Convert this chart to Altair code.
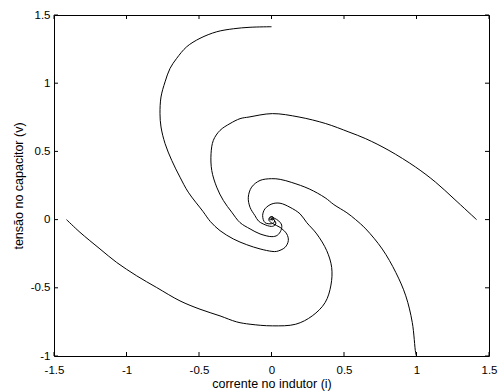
import altair as alt
import pandas as pd

# Phase-plane trajectories: inductor current (i) vs capacitor voltage (v)
A_i = [0.000, -0.148, -0.263, -0.378, -0.493, -0.585, -0.654, -0.700, -0.734, -0.762, -0.769,
       -0.762, -0.734, -0.688, -0.631, -0.574, -0.472, -0.421, -0.355, -0.263, -0.171,
       -0.079, 0.003, 0.036, 0.093, 0.116, 0.105, 0.059, 0.010, -0.018, -0.012, 0.008, 0.015,
       0.004, 0.000]
A_v = [1.414, 1.410, 1.399, 1.377, 1.329, 1.267, 1.182, 1.108, 1.010, 0.899, 0.777,
       0.679, 0.557, 0.434, 0.311, 0.201, 0.059, -0.015, -0.081, -0.142, -0.184,
       -0.215, -0.233, -0.233, -0.204, -0.154, -0.105, -0.057, -0.030, -0.005, 0.018, 0.022,
       0.006, -0.004, 0.000]

B_i = [1.414, 1.259, 1.132, 0.994, 0.810, 0.650, 0.534, 0.374, 0.190, 0.006, -0.155,
       -0.217, -0.286, -0.355, -0.401, -0.417, -0.412, -0.378, -0.332, -0.274, -0.217, -0.148,
       -0.079, 0.003, 0.040, 0.065, 0.070, 0.050, 0.020, 0.000, -0.010, -0.012, 0.000]
B_v = [0.000, 0.152, 0.274, 0.385, 0.507, 0.593, 0.642, 0.704, 0.752, 0.777, 0.752,
       0.740, 0.704, 0.654, 0.581, 0.483, 0.360, 0.238, 0.140, 0.054, -0.022, -0.068,
       -0.105, -0.125, -0.115, -0.080, -0.040, -0.010, 0.010, 0.018, 0.012, 0.000, 0.000]

C_i = [-1.414, -1.321, -1.183, -1.068, -0.930, -0.792, -0.631, -0.493, -0.355, -0.240, -0.148,
       0.006, 0.167, 0.281, 0.370, 0.410, 0.415, 0.381, 0.312, 0.243, 0.197, 0.128,
       0.059, 0.003, -0.045, -0.061, -0.045, 0.000, 0.020, 0.018, 0.005, 0.000]
C_v = [0.000, -0.093, -0.215, -0.314, -0.412, -0.498, -0.596, -0.657, -0.706, -0.750, -0.767,
       -0.779, -0.767, -0.706, -0.608, -0.480, -0.351, -0.228, -0.105, -0.022, 0.042, 0.090,
       0.120, 0.115, 0.079, 0.029, -0.022, -0.030, -0.018, 0.000, 0.010, 0.000]

D_i = [1.000, 0.994, 0.971, 0.926, 0.857, 0.764, 0.650, 0.580, 0.520, 0.430, 0.370,
       0.260, 0.140, 0.060, 0.000, -0.079, -0.137, -0.160, -0.148, -0.114, -0.090, -0.057,
       0.000, 0.025, 0.030, 0.020, 0.000, -0.004, 0.000]
D_v = [-1.000, -0.976, -0.755, -0.559, -0.387, -0.216, -0.068, 0.000, 0.050, 0.110, 0.160,
       0.225, 0.272, 0.295, 0.300, 0.287, 0.238, 0.164, 0.090, 0.029, -0.010, -0.032,
       -0.050, -0.040, -0.025, -0.005, 0.008, 0.004, 0.000]

x_ticks = [-1.5, -1.0, -0.5, 0.0, 0.5, 1.0, 1.5]
y_ticks = [-1.0, -0.5, 0.0, 0.5, 1.0, 1.5]

W, H = 435, 341
FONT = "Liberation Sans"
TICK = 4

rows = []
for name, xs, ys in [("A", A_i, A_v), ("B", B_i, B_v), ("C", C_i, C_v), ("D", D_i, D_v)]:
    for k, (a, b) in enumerate(zip(xs, ys)):
        rows.append({"curve": name, "i": a, "v": b, "k": k})
traj = pd.DataFrame(rows)

xs = alt.Scale(domain=[-1.5, 1.5], nice=False, zero=False)
ys = alt.Scale(domain=[-1.0, 1.5], nice=False, zero=False)

x_axis = alt.Axis(values=x_ticks, labelExpr="'' + datum.value", ticks=False, domain=False,
                  grid=False, labelFlush=False, labelFont=FONT, labelFontSize=11.5,
                  labelColor="black", labelPadding=8, title="corrente no indutor (i)",
                  titleFont=FONT, titleFontSize=12.5, titleFontWeight="normal",
                  titleColor="black", titlePadding=2)
y_axis = alt.Axis(values=y_ticks, labelExpr="'' + datum.value", ticks=False, domain=False,
                  grid=False, labelFlush=False, labelFont=FONT, labelFontSize=11.5,
                  labelColor="black", labelPadding=4, title="tensão no capacitor (v)",
                  titleFont=FONT, titleFontSize=12.5, titleFontWeight="normal",
                  titleColor="black", titlePadding=5)

lines = alt.Chart(traj).mark_line(color="black", strokeWidth=1,
                                  interpolate="catmull-rom").encode(
    x=alt.X("i:Q", scale=xs, axis=x_axis),
    y=alt.Y("v:Q", scale=ys, axis=y_axis),
    detail="curve:N",
    order="k:Q",
)

xt = pd.DataFrame({"t": x_ticks})
yt = pd.DataFrame({"t": y_ticks})

xtick_bottom = alt.Chart(xt).mark_rule(color="black", strokeWidth=1).encode(
    x=alt.X("t:Q", scale=xs), y=alt.value(H), y2=alt.value(H - TICK))
xtick_top = alt.Chart(xt).mark_rule(color="black", strokeWidth=1).encode(
    x=alt.X("t:Q", scale=xs), y=alt.value(0), y2=alt.value(TICK))
ytick_left = alt.Chart(yt).mark_rule(color="black", strokeWidth=1).encode(
    y=alt.Y("t:Q", scale=ys), x=alt.value(0), x2=alt.value(TICK))
ytick_right = alt.Chart(yt).mark_rule(color="black", strokeWidth=1).encode(
    y=alt.Y("t:Q", scale=ys), x=alt.value(W), x2=alt.value(W - TICK))

chart = alt.layer(lines, xtick_bottom, xtick_top, ytick_left, ytick_right).properties(
    width=W, height=H,
    autosize=alt.AutoSizeParams(type="none"),
    padding={"left": 54, "top": 15, "right": 9, "bottom": 35},
    background="white",
).configure_view(stroke="black", strokeWidth=1)

chart.save("out.html", embed_options={"renderer": "svg", "actions": False})
